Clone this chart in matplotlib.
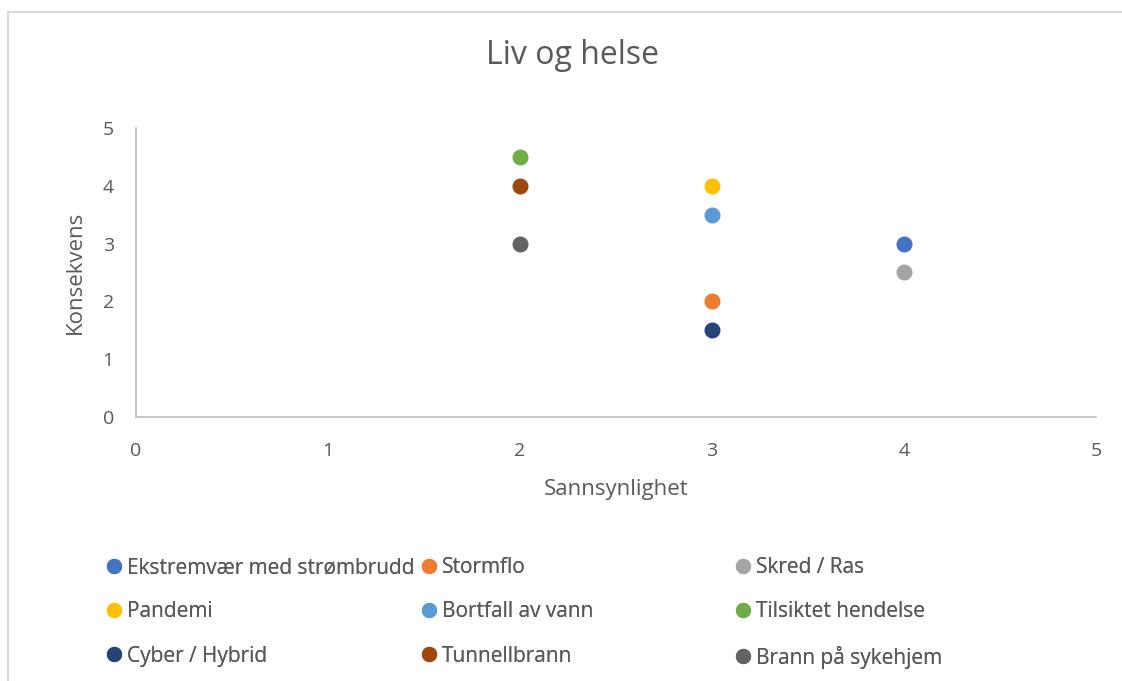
import matplotlib
matplotlib.use("Agg")
import matplotlib.pyplot as plt
from matplotlib.lines import Line2D

names = ["Ekstremvær med strømbrudd", "Stormflo", "Skred / Ras",
         "Pandemi", "Bortfall av vann", "Tilsiktet hendelse",
         "Cyber / Hybrid", "Tunnellbrann", "Brann på sykehjem"]
sannsynlighet = [4, 3, 4, 3, 3, 2, 3, 2, 2]
konsekvens = [3, 2, 2.5, 4, 3.5, 4.5, 1.5, 4, 3]
colors = ["#4472C4", "#ED7D31", "#A5A5A5", "#FFC000", "#5B9BD5",
          "#70AD47", "#264478", "#9E480E", "#636363"]
ticks = [0, 1, 2, 3, 4, 5]

plt.rcParams['font.family'] = ['Open Sans', 'DejaVu Sans']
txt = "#595959"

fig = plt.figure(figsize=(11.22, 6.81), dpi=100)
W, H = 1122, 681
ax = fig.add_axes([136 / W, 1 - 417 / H, (1096 - 136) / W, (417 - 128) / H])

handles = []
for n, x, y, c in zip(names, sannsynlighet, konsekvens, colors):
    h, = ax.plot([x], [y], 'o', ms=10.5, color=c, label=n, clip_on=False)
    handles.append(h)

ax.set_xlim(0, 5)
ax.set_ylim(0, 5)
ax.set_xticks(ticks)
ax.set_yticks(ticks)
ax.tick_params(length=0, labelsize=14, labelcolor=txt)
ax.tick_params(axis='y', pad=16)
ax.tick_params(axis='x', pad=18)
for s in ['top', 'right']:
    ax.spines[s].set_visible(False)
for s in ['left', 'bottom']:
    ax.spines[s].set_color("#BFBFBF")
    ax.spines[s].set_linewidth(1.2)

ax.set_xlabel("Sannsynlighet", fontsize=16, color=txt, labelpad=14)
ax.set_ylabel("Konsekvens", fontsize=16, color=txt, labelpad=12)
fig.text(573 / W, 1 - 56 / H, "Liv og helse", ha='center', va='center',
         fontsize=23, color=txt)

# chart border (top and left visible)
fig.add_artist(Line2D([8 / W, 1.0], [1 - 12 / H, 1 - 12 / H], color="#D9D9D9",
                      lw=1.5, transform=fig.transFigure))
fig.add_artist(Line2D([8 / W, 8 / W], [0, 1 - 12 / H], color="#D9D9D9",
                      lw=1.5, transform=fig.transFigure))

# legend: three columns, row-wise order
col_x = [109, 424, 738]
for ci in range(3):
    hs = [handles[r * 3 + ci] for r in range(3)]
    leg = fig.legend(handles=hs, labels=[h.get_label() for h in hs],
                     loc='upper left', bbox_to_anchor=(col_x[ci] / W, 1 - 557 / H),
                     frameon=False, fontsize=15, labelcolor=txt,
                     handlelength=0.5, handletextpad=0.35, markerscale=0.95,
                     labelspacing=1.12, borderaxespad=0, borderpad=0)
    fig.add_artist(leg)

fig.savefig("out.png", dpi=100)
